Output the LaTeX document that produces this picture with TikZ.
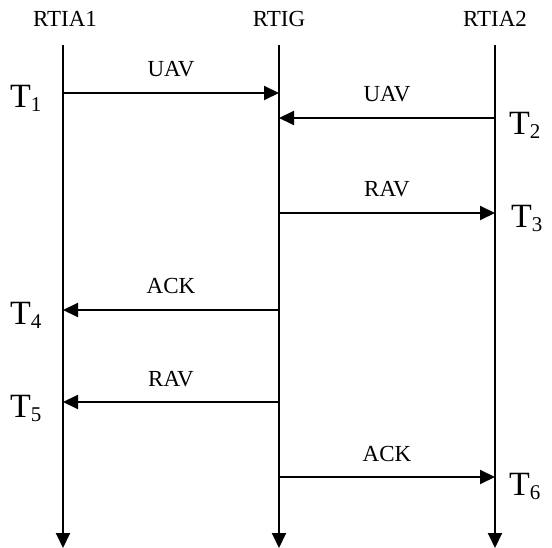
\documentclass[tikz,border=0pt]{standalone}
\usepackage{fontspec}
\setmainfont{Liberation Serif}
\usetikzlibrary{arrows.meta}
\newcommand{\tlab}[1]{\fontsize{34}{34}\selectfont T\raisebox{-4pt}{\fontsize{21}{21}\selectfont #1}}
\begin{document}
\begin{tikzpicture}[x=1pt,y=-1pt,
  lifeline/.style={line width=2pt,-{Triangle[length=15pt,width=14pt]}},
  msg/.style={line width=2pt,-{Triangle[length=15pt,width=14pt]}},
  head/.style={font=\fontsize{23}{23}\selectfont,anchor=base,inner sep=0pt},
  mlab/.style={font=\fontsize{23}{23}\selectfont,anchor=base,inner sep=0pt},
  tl/.style={anchor=base west,inner sep=0pt}]
\useasboundingbox (0,0) rectangle (552,548);
% heads
\node[head] (h1) at (65,27) {RTIA1};
\node[head] (h2) at (279,27) {RTIG};
\node[head] (h3) at (495,27) {RTIA2};
% lifeline ends
\coordinate (a0) at (63,45);  \coordinate (a9) at (63,548);
\coordinate (g0) at (279,45); \coordinate (g9) at (279,548);
\coordinate (b0) at (495,45); \coordinate (b9) at (495,548);
\draw[lifeline] (a0) -- (a9);
\draw[lifeline] (g0) -- (g9);
\draw[lifeline] (b0) -- (b9);
% message points
\coordinate (a1) at (63,93);   \coordinate (g1) at (279,93);
\coordinate (b2) at (495,118); \coordinate (g2) at (279,118);
\coordinate (g3) at (279,213); \coordinate (b3) at (495,213);
\coordinate (g4) at (279,310); \coordinate (a4) at (63,310);
\coordinate (g5) at (279,402); \coordinate (a5) at (63,402);
\coordinate (g6) at (279,477); \coordinate (b6) at (495,477);
\draw[msg] (a1) -- (g1);
\draw[msg] (b2) -- (g2);
\draw[msg] (g3) -- (b3);
\draw[msg] (g4) -- (a4);
\draw[msg] (g5) -- (a5);
\draw[msg] (g6) -- (b6);
% message labels
\node[mlab] (l1) at (171,77) {UAV};
\node[mlab] (l2) at (387,102) {UAV};
\node[mlab] (l3) at (387,197) {RAV};
\node[mlab] (l4) at (171,294) {ACK};
\node[mlab] (l5) at (171,386) {RAV};
\node[mlab] (l6) at (387,461) {ACK};
% time labels
\node[tl] (t1) at (10,108) {\tlab{1}};
\node[tl] (t2) at (509,135) {\tlab{2}};
\node[tl] (t3) at (511,228) {\tlab{3}};
\node[tl] (t4) at (10,325) {\tlab{4}};
\node[tl] (t5) at (10,417) {\tlab{5}};
\node[tl] (t6) at (509,495) {\tlab{6}};
\end{tikzpicture}
\end{document}
